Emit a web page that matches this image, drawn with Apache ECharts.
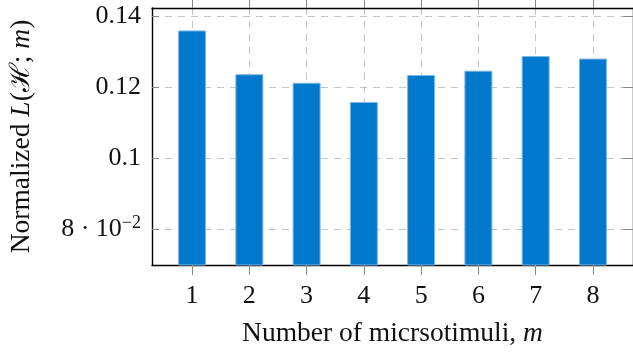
<!DOCTYPE html>
<html><head><meta charset="utf-8">
<script src="https://cdn.jsdelivr.net/npm/echarts@6/dist/echarts.min.js"></script>
<style>html,body{margin:0;padding:0;background:#fff}#c{width:633px;height:353px}</style>
</head><body><div id="c"></div>
<script>
const categories = [1, 2, 3, 4, 5, 6, 7, 8];
const values = [0.1359, 0.1236, 0.1212, 0.1158, 0.1234, 0.1246, 0.1287, 0.1280];
const yTicks = [0.08, 0.10, 0.12, 0.14];
const xName = 'Number of micrsotimuli, {i|m}';
const yName = 'Normalized {i|L}(ℋ; {i|m})';

const FONT = 'Liberation Serif';
const FS = 26;
const NFS = 27.5;
const gridStyle = { color: '#c4c4c4', width: 1, type: [7, 6] };
const chart = echarts.init(document.getElementById('c'), null, { renderer: 'canvas' });
chart.setOption({
  animation: false,
  backgroundColor: '#fff',
  grid: { left: 151, top: 8, width: 485, height: 258, containLabel: false },
  xAxis: [{
    type: 'value', min: 0.3, max: 8.7, position: 'bottom',
    axisLine: { show: true, onZero: false, lineStyle: { color: '#000', width: 1.4 } },
    axisTick: { show: true, inside: false, length: 10, customValues: categories, lineStyle: { color: '#888', width: 1 } },
    axisLabel: { customValues: categories, margin: 18, fontFamily: FONT, fontSize: FS, color: '#111' },
    splitLine: { show: true, lineStyle: gridStyle },
    name: xName, nameLocation: 'middle', nameGap: 55,
    nameTextStyle: { fontFamily: FONT, fontSize: NFS, color: '#111', rich: { i: { fontFamily: FONT, fontStyle: 'italic', fontSize: NFS, color: '#111' } } }
  }, {
    type: 'value', min: 0.3, max: 8.7, position: 'top',
    axisLine: { show: true, onZero: false, lineStyle: { color: '#000', width: 1.4 } },
    axisTick: { show: true, inside: false, length: 10, customValues: categories, lineStyle: { color: '#888', width: 1 } },
    axisLabel: { show: false }, splitLine: { show: false }
  }],
  yAxis: [{
    type: 'value', min: 0.07, max: 0.1422, position: 'left',
    axisLine: { show: true, onZero: false, lineStyle: { color: '#000', width: 1.4 } },
    axisTick: { show: true, inside: true, length: 7, customValues: yTicks, lineStyle: { color: '#888', width: 1 } },
    axisLabel: {
      customValues: yTicks, margin: 11, fontFamily: FONT, fontSize: FS, color: '#111',
      formatter: v => Math.abs(v - 0.08) < 1e-9 ? '8 · 10{s|−2}' : String(+v.toFixed(2)),
      rich: { s: { fontFamily: FONT, fontSize: 18, color: '#111', verticalAlign: 'top', padding: [0, 0, 13, 0] } }
    },
    splitLine: { show: true, lineStyle: gridStyle },
    name: yName, nameLocation: 'middle', nameGap: 116, nameRotate: 90,
    nameTextStyle: { fontFamily: FONT, fontSize: NFS, color: '#111', rich: { i: { fontFamily: FONT, fontStyle: 'italic', fontSize: NFS, color: '#111' } } }
  }, {
    type: 'value', min: 0.07, max: 0.1422, position: 'right',
    axisLine: { show: true, onZero: false, lineStyle: { color: '#000', width: 1.4 } },
    axisTick: { show: true, inside: true, length: 10, customValues: yTicks, lineStyle: { color: '#888', width: 1 } },
    axisLabel: { show: false }, splitLine: { show: false }
  }],
  series: [{
    type: 'bar', xAxisIndex: 0, yAxisIndex: 0, barWidth: 28,
    data: categories.map((c, i) => [c, values[i]]),
    itemStyle: { color: '#0079CC', borderColor: '#7fb8e6', borderWidth: 1 }
  }]
});
</script></body></html>
